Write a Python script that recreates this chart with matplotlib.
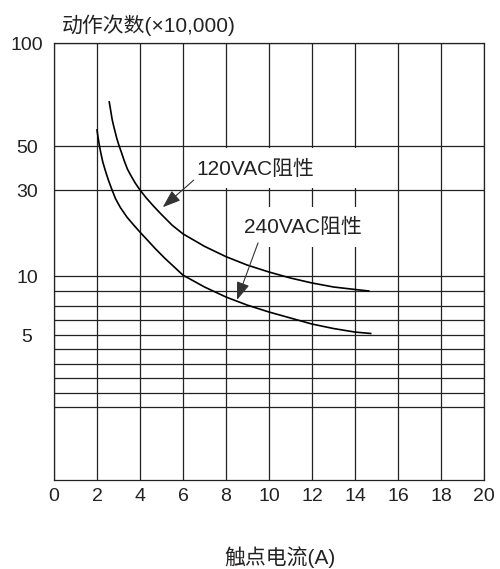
import numpy as np
import matplotlib
matplotlib.use("Agg")
import matplotlib.pyplot as plt
from matplotlib.patches import Rectangle

plt.rcParams['font.family'] = ['Liberation Sans', 'Noto Sans CJK SC', 'DejaVu Sans']

# current (A) vs. operations (x10,000)
cur_120 = [2.57, 2.71, 2.77, 2.85, 2.92, 3.015, 3.14, 3.27, 3.42, 3.58, 3.77, 4.0, 4.285,
           4.64, 5.0, 5.5, 6.0, 7.0, 8.0, 8.98, 10.0, 11.0, 12.0, 13.0, 14.0, 14.64]
ops_120 = [71.4, 62.6, 59.9, 56.6, 53.7, 50.5, 47.0, 43.2, 39.4, 36.5, 33.3, 30.0, 28.2,
           26.2, 24.3, 21.8, 19.8, 16.9, 14.5, 12.56, 10.93, 9.83, 9.41, 9.07, 8.86, 8.73]

cur_240 = [2.0, 2.045, 2.105, 2.18, 2.27, 2.395, 2.53, 2.67, 2.86, 3.09, 3.40, 3.70, 4.0,
           4.355, 4.715, 5.14, 5.57, 6.0, 7.0, 8.0, 8.98, 10.0, 11.0, 12.0, 13.0, 14.0, 14.73]
ops_240 = [57.8, 54.5, 50.6, 46.7, 42.7, 38.6, 34.5, 30.8, 28.0, 25.9, 23.65, 21.9, 20.2,
           18.3, 16.35, 14.2, 12.2, 10.2, 9.07, 8.22, 7.54, 6.95, 6.44, 5.93, 5.55, 5.25, 5.13]

x_ticks = list(range(0, 21, 2))
y_tick_vals = [100, 50, 30, 10, 5]
y_grid = [100, 50, 30, 10, 8.75, 7.5, 6.25, 5, 4.2, 3.4, 2.6, 1.8, 1.0]

# the printed chart uses a hand-drawn, non-uniform y axis
scale_vals = [0, 1, 5, 10, 30, 50, 100]
scale_pos = [0, 0.167, 0.3318, 0.4668, 0.6636, 0.7643, 1.0]

def fwd(v):
    return np.interp(v, scale_vals, scale_pos)

def inv(p):
    return np.interp(p, scale_pos, scale_vals)

fig = plt.figure(figsize=(5, 5.69), dpi=100)
ax = fig.add_axes([0.108, 0.1564, 0.86, 0.768])
ax.set_yscale('function', functions=(fwd, inv))
ax.set_xlim(0, 20)
ax.set_ylim(0, 100)

gc = '#222222'
for v in y_grid:
    ax.axhline(v, color=gc, lw=0.9, zorder=0.5)
for x in x_ticks:
    ax.axvline(x, color=gc, lw=0.9, zorder=0.5)
for s in ax.spines.values():
    s.set_color(gc)
    s.set_linewidth(0.9)

# white boxes behind the labels
ax.add_patch(Rectangle((6.25, 31), 8.55, 18, fc='white', ec='none', zorder=1))
ax.add_patch(Rectangle((8.33, 16.7), 6.47, 9.3, fc='white', ec='none', zorder=1))

ax.plot(cur_120, ops_120, color='black', lw=1.2, zorder=3)
ax.plot(cur_240, ops_240, color='black', lw=1.2, zorder=3)

ax.text(6.6, 39.5, '120VAC阻性', fontsize=15, va='center', ha='left', color='#222', zorder=4)
ax.text(8.84, 21.4, '240VAC阻性', fontsize=15, va='center', ha='left', color='#222', zorder=4)
arw = dict(arrowstyle='-|>,head_length=0.55,head_width=0.2', mutation_scale=20,
           lw=0.8, color='#333', shrinkA=0, shrinkB=0)
ax.annotate('', xy=(5.06, 26.0), xytext=(6.5, 34.5), arrowprops=arw, zorder=4)
ax.annotate('', xy=(8.51, 7.97), xytext=(9.49, 17.7), arrowprops=arw, zorder=4)

ax.set_xticks(x_ticks)
ax.set_xticklabels([str(x) for x in x_ticks], fontsize=14, color='#222')
ax.set_yticks(y_tick_vals)
ax.set_yticklabels([str(v) for v in y_tick_vals], fontsize=14, color='#222')
ax.yaxis.set_minor_locator(matplotlib.ticker.NullLocator())
ax.tick_params(length=0)
ax.tick_params(axis='x', pad=6)
ax.tick_params(axis='y', pad=19.5)
for lbl in ax.get_yticklabels():
    lbl.set_horizontalalignment('center')

fig.text(62 / 500, 1 - 25 / 569, '动作次数(×10,000)', fontsize=15, va='center', ha='left', color='#222')
fig.text(280 / 500, 1 - 557 / 569, '触点电流(A)', fontsize=15, va='center', ha='center', color='#222')

fig.savefig('out.png', dpi=100)
